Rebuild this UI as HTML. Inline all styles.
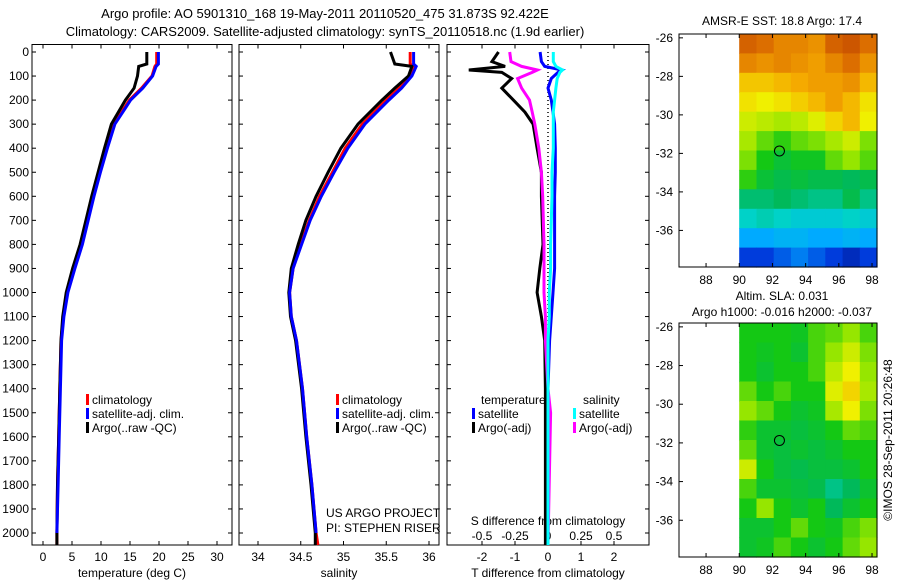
<!DOCTYPE html>
<html><head><meta charset="utf-8"><style>
html,body{margin:0;padding:0;background:#fff;}
svg{display:block;font-family:"Liberation Sans",sans-serif;}
</style></head><body>
<svg id="c" width="900" height="580" viewBox="0 0 900 580" xmlns="http://www.w3.org/2000/svg">
<rect width="900" height="580" fill="#fff"/>
<text x="325" y="18" font-size="13" text-anchor="middle">Argo profile: AO 5901310_168 19-May-2011 20110520_475 31.873S 92.422E</text>
<text x="325" y="36" font-size="13" text-anchor="middle">Climatology: CARS2009. Satellite-adjusted climatology: synTS_20110518.nc (1.9d earlier)</text>
<text x="782" y="25" font-size="12" text-anchor="middle">AMSR-E SST: 18.8 Argo: 17.4</text>
<text x="782" y="300" font-size="12" text-anchor="middle">Altim. SLA: 0.031</text>
<text x="782" y="316" font-size="12" text-anchor="middle">Argo h1000: -0.016 h2000: -0.037</text>
<text transform="translate(892,440) rotate(-90)" font-size="12" text-anchor="middle">©IMOS 28-Sep-2011 20:26:48</text>
<g id="g"></g>
</svg>
<script>
const depths=[0,50,60,100,150,200,300,400,500,600,700,800,900,1000,1100,1200,1400,1600,1800,2000,2050];
const tempClim=[19.6,19.6,19.3,18.8,17,14.9,12.2,10.9,9.7,8.6,7.6,6.6,5.3,4.2,3.5,3.1,2.9,2.7,2.5,2.4,2.4];
const tempSat=[19.9,19.9,19.5,18.9,17.2,15.1,12.4,11.1,9.9,8.8,7.8,6.8,5.5,4.3,3.6,3.2,3.0,2.8,2.6,2.4,2.4];
const tempArgo=[17.9,17.9,16.5,16.3,15.7,14.2,11.8,10.6,9.5,8.4,7.4,6.4,5.1,4.0,3.4,3.1,2.9,2.7,2.5,2.4,2.4];
const salClim=[35.78,35.78,35.82,35.78,35.65,35.5,35.22,35.02,34.87,34.72,34.6,34.5,34.41,34.37,34.39,34.45,34.52,34.57,34.63,34.68,34.7];
const salSat=[35.82,35.82,35.85,35.8,35.68,35.53,35.25,35.05,34.89,34.74,34.61,34.51,34.41,34.37,34.39,34.45,34.52,34.57,34.63,34.68,34.68];
const salArgo=[35.55,35.6,35.8,35.76,35.6,35.45,35.17,34.97,34.82,34.68,34.56,34.47,34.39,34.36,34.38,34.44,34.51,34.56,34.62,34.67,34.67];
const diffDepths=[0,40,60,75,85,110,150,200,250,300,400,500,600,800,900,1000,1100,1200,1400,1500,2050];
const tDiffArgo=[-1.5,-1.7,-1.3,-2.4,-1.4,-1.1,-1.4,-1.05,-0.7,-0.45,-0.33,-0.2,-0.2,-0.15,-0.25,-0.33,-0.2,-0.1,-0.08,-0.08,-0.08];
const sDiffArgo=[-0.29,-0.28,-0.2,-0.08,-0.12,-0.23,-0.2,-0.14,-0.12,-0.1,-0.07,-0.05,-0.04,-0.03,-0.03,-0.03,-0.02,-0.02,0.0,0.02,0.0];
const tDiffSat=[-0.24,-0.2,-0.1,0.42,0.3,0.1,0.0,0.1,0.15,0.2,0.22,0.22,0.2,0.2,0.2,0.15,0.1,0.05,0.0,0.0,0.0];
const sDiffSat=[0.04,0.04,0.06,0.11,0.09,0.07,0.06,0.05,0.04,0.04,0.04,0.03,0.03,0.02,0.02,0.01,0.01,0.0,0.0,0.0,0.0];
const depthTicks=[0,100,200,300,400,500,600,700,800,900,1000,1100,1200,1300,1400,1500,1600,1700,1800,1900,2000];
const tempTicks=[0,5,10,15,20,25,30];
const salTicks=[34,34.5,35,35.5,36];
const salTickLabels=["34","34.5","35","35.5","36"];
const tDiffTicks=[-2,-1,0,1,2];
const sDiffTicks=[-0.5,-0.25,0,0.25,0.5];
const sDiffTickLabels=["-0.5","-0.25","0","0.25","0.5"];
const latTicks=[-26,-28,-30,-32,-34,-36];
const lonTicks=[88,90,92,94,96,98];
const sstGrid=[
[.92,.90,.86,.86,.84,.92,.94,.90],
[.86,.84,.86,.84,.82,.86,.90,.84],
[.76,.76,.78,.80,.82,.82,.84,.78],
[.72,.70,.72,.75,.78,.82,.78,.72],
[.66,.64,.62,.64,.68,.74,.78,.70],
[.62,.56,.52,.56,.58,.62,.66,.58],
[.58,.50,.45,.48,.48,.56,.60,.55],
[.52,.45,.42,.44,.42,.42,.40,.42],
[.38,.38,.40,.38,.36,.36,.42,.36],
[.30,.32,.30,.28,.28,.28,.30,.28],
[.20,.20,.22,.22,.20,.20,.22,.20],
[.10,.10,.13,.16,.13,.10,.06,.10]];
const slaGrid=[
[.50,.50,.50,.48,.54,.56,.60,.54],
[.50,.48,.50,.46,.54,.60,.66,.58],
[.50,.46,.50,.50,.54,.64,.70,.60],
[.56,.50,.54,.50,.50,.68,.74,.62],
[.60,.56,.50,.46,.48,.62,.70,.58],
[.52,.46,.46,.44,.46,.50,.56,.54],
[.56,.46,.44,.46,.44,.46,.50,.50],
[.66,.50,.44,.42,.44,.44,.46,.50],
[.54,.46,.46,.44,.42,.36,.40,.46],
[.50,.60,.50,.46,.50,.40,.46,.50],
[.46,.46,.50,.56,.50,.48,.54,.58],
[.46,.48,.54,.50,.46,.50,.56,.60]];
const floatLon=92.422, floatLat=-31.873;

const NS='http://www.w3.org/2000/svg';
const G=document.getElementById('g');
function mk(tag,attrs,parent){const e=document.createElementNS(NS,tag);for(const k in attrs)e.setAttribute(k,attrs[k]);(parent||G).appendChild(e);return e;}
const yD=d=>52+0.2405*d;
const PT=44.5, PB=545;
function panel(name,x0,x1){
  const r=mk('rect',{x:x0,y:PT,width:x1-x0,height:PB-PT,fill:'none',stroke:'#000','stroke-width':1});
  
  
  depthTicks.forEach(d=>{mk('line',{x1:x0,x2:x0+4,y1:yD(d),y2:yD(d),stroke:'#000'});mk('line',{x1:x1,x2:x1-4,y1:yD(d),y2:yD(d),stroke:'#000'});});
}
function xticks(xs,labels,y,fs,name){
  xs.forEach((x,i)=>{
    const t=mk('text',{x:x,y:y,'font-size':fs,'text-anchor':'middle'});t.textContent=labels[i];
    
    
  });
}
function line(xs,ys,color,name,w){
  const p=mk('polyline',{points:xs.map((x,i)=>x.toFixed(1)+','+ys[i].toFixed(1)).join(' '),fill:'none',stroke:color,'stroke-width':w||3});
  
  
}
function text(x,y,s,fs,name,anchor){const t=mk('text',{x:x,y:y,'font-size':fs,'text-anchor':anchor||'start'});t.textContent=s;return t;}

depthTicks.forEach(d=>{text(29,yD(d)+4,String(d),12,'depth-tick-label','end');});

const xT=v=>43+5.8*v;
panel('temperature-panel',32,232);
tempTicks.forEach(v=>{mk('line',{x1:xT(v),x2:xT(v),y1:PB,y2:PB-4,stroke:'#000'});mk('line',{x1:xT(v),x2:xT(v),y1:PT,y2:PT+4,stroke:'#000'});});
xticks(tempTicks.map(xT),tempTicks.map(String),561,12,'temperature-tick-label');
text(132,577,'temperature (deg C)',12,'temperature-axis-title','middle');
line(tempClim.map(xT),depths.map(yD),'#f00','temperature-climatology-line');
line(tempArgo.map(xT),depths.map(yD),'#000','temperature-argo-line');
line(tempSat.slice(0,20).map(xT),depths.slice(0,20).map(yD),'#00f','temperature-satellite-line');

const xS=v=>258+85.5*(v-34);
panel('salinity-panel',239,439);
salTicks.forEach(v=>{mk('line',{x1:xS(v),x2:xS(v),y1:PB,y2:PB-4,stroke:'#000'});mk('line',{x1:xS(v),x2:xS(v),y1:PT,y2:PT+4,stroke:'#000'});});
xticks(salTicks.map(xS),salTickLabels,561,12,'salinity-tick-label');
text(339,577,'salinity',12,'salinity-axis-title','middle');
line(salClim.map(xS),depths.map(yD),'#f00','salinity-climatology-line');
line(salArgo.map(xS),depths.map(yD),'#000','salinity-argo-line');
line(salSat.slice(0,20).map(xS),depths.slice(0,20).map(yD),'#00f','salinity-satellite-line');
text(326,517,'US ARGO PROJECT',12,'project-label');
text(326,532,'PI: STEPHEN RISER',12,'pi-label');

function legend(x,y,items,prefix){
  items.forEach((it,i)=>{
    const r=mk('rect',{x:x,y:y+i*14-10,width:3,height:11,fill:it[0]});
    
    
    text(x+6,y+i*14,it[1],12,prefix+'-label');
  });
}
const legItems=[['#f00','climatology'],['#00f','satellite-adj. clim.'],['#000','Argo(..raw -QC)']];
legend(86,404,legItems,'temperature-legend');
legend(336,404,legItems,'salinity-legend');

const xTD=v=>548+33*v;
const xSD=v=>548+132*v;
panel('difference-panel',447,649);
tDiffTicks.forEach(v=>{mk('line',{x1:xTD(v),x2:xTD(v),y1:PB,y2:PB-4,stroke:'#000'});mk('line',{x1:xTD(v),x2:xTD(v),y1:PT,y2:PT+4,stroke:'#000'});});
xticks(tDiffTicks.map(xTD),tDiffTicks.map(String),561,12,'t-diff-tick-label');
xticks(sDiffTicks.map(xSD),sDiffTickLabels,540,12,'s-diff-tick-label');
text(548,525,'S difference from climatology',12,'s-diff-axis-title','middle');
text(548,577,'T difference from climatology',12,'t-diff-axis-title','middle');
const z=mk('line',{x1:xTD(0),x2:xTD(0),y1:yD(0),y2:PB,stroke:'#000','stroke-dasharray':'1,3','stroke-width':1.5});


line(tDiffArgo.map(xTD),diffDepths.map(yD),'#000','t-diff-argo-line');
line(sDiffArgo.map(xSD),diffDepths.map(yD),'#f0f','s-diff-argo-line');
line(tDiffSat.map(xTD),diffDepths.map(yD),'#00f','t-diff-satellite-line');
line(sDiffSat.map(xSD),diffDepths.map(yD),'#0ff','s-diff-satellite-line');
text(481,404,'temperature',12,'diff-legend-temperature-heading');
text(583,404,'salinity',12,'diff-legend-salinity-heading');
legend(472,418,[['#00f','satellite'],['#000','Argo(-adj)']],'diff-legend-temperature');
legend(573,418,[['#0ff','satellite'],['#f0f','Argo(-adj)']],'diff-legend-salinity');

const cmap=[[0,20,140],[0,60,220],[0,170,255],[0,210,200],[0,185,90],[20,200,20],[150,230,0],[240,240,0],[245,170,0],[220,110,0],[180,50,0]];
function colr(v){
  v=Math.max(0,Math.min(1,v))*(cmap.length-1);
  const i=Math.min(cmap.length-2,Math.floor(v)),f=v-i;
  const c=cmap[i].map((a,k)=>Math.round(a+(cmap[i+1][k]-a)*f));
  return 'rgb('+c.join(',')+')';
}
function map(name,top,bottom,grid){
  const lon0=86.37,lon1=98.3,lat0=-25.8,lat1=-37.9;
  const X=lo=>679+(lo-lon0)*(877-679)/(lon1-lon0);
  const Y=la=>top+(la-lat0)*(bottom-top)/(lat1-lat0);
  const rows=grid.length, cols=grid[0].length;
  const dLon=(lon1-90)/cols, dLat=(lat1-lat0)/rows;
  grid.forEach((row,i)=>row.forEach((v,j)=>{
    const c=mk('rect',{x:X(90+j*dLon).toFixed(1),y:Y(lat0+i*dLat).toFixed(1),width:(X(90+(j+1)*dLon)-X(90+j*dLon)+0.6).toFixed(1),height:(Y(lat0+(i+1)*dLat)-Y(lat0+i*dLat)+0.6).toFixed(1),fill:colr(v)});
    
    
  }));
  const f=mk('rect',{x:679,y:top,width:198,height:bottom-top,fill:'none',stroke:'#000'});
  
  
  latTicks.forEach(la=>{mk('line',{x1:679,x2:683,y1:Y(la),y2:Y(la),stroke:'#000'});text(673,Y(la)+4,String(la),12,name+'-lat-label','end');});
  lonTicks.forEach(lo=>{mk('line',{x1:X(lo),x2:X(lo),y1:bottom,y2:bottom-4,stroke:'#000'});mk('line',{x1:X(lo),x2:X(lo),y1:top,y2:top+4,stroke:'#000'});text(X(lo),bottom+17,String(lo),12,name+'-lon-label','middle');});
  const m=mk('circle',{cx:X(floatLon),cy:Y(floatLat),r:5,fill:'none',stroke:'#000'});
  
  
}
map('sst-map',34,267,sstGrid);
map('sla-map',323,557,slaGrid);
</script>
</body></html>
